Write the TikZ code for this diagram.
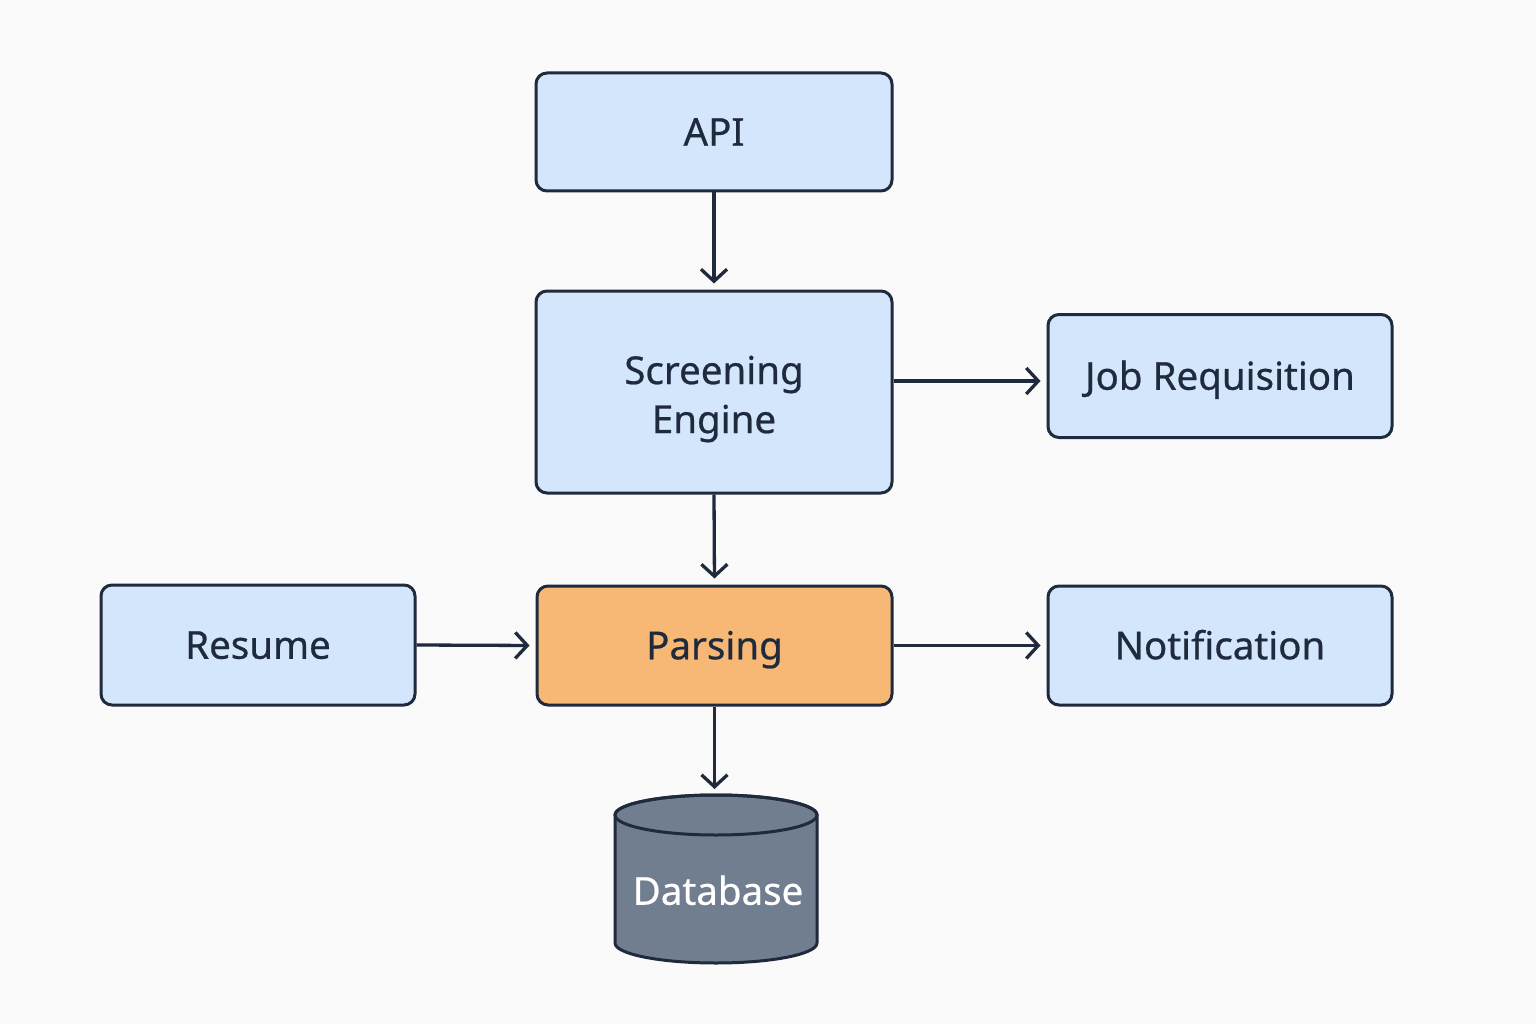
\documentclass[tikz,border=0pt]{standalone}
\usepackage{fontspec}
\setmainfont{Noto Sans}[UprightFeatures={FakeBold=0.6}]
\usetikzlibrary{arrows.meta}
\definecolor{bgc}{HTML}{FAFAFA}
\definecolor{edgec}{HTML}{1F2A3D}
\definecolor{boxc}{HTML}{D4E6FC}
\definecolor{orangec}{HTML}{F7B876}
\definecolor{dbc}{HTML}{717E90}
\tikzset{
  box/.style={draw=edgec, line width=3pt, rounded corners=11pt, fill=boxc,
    text=edgec, font=\fontsize{38.5}{45}\selectfont, align=center, inner sep=0pt,
    text height=27.5pt, text depth=0pt},
  lbl/.style={text=edgec, font=\fontsize{38.5}{45}\selectfont, align=center, inner sep=0pt},
  conn/.style={draw=edgec, line width=3.3pt,
    -{Straight Barb[length=12pt,width=26pt]}, shorten >=6pt},
}
\begin{document}
\begin{tikzpicture}[x=1pt,y=-1pt]
\useasboundingbox (0,0) rectangle (1536,1024);
\fill[bgc] (0,0) rectangle (1536,1024);

\node[box, minimum width=356pt, minimum height=118pt] (api) at (714,132) {API};
\node[box, minimum width=356pt, minimum height=202pt] (scr) at (714,392) {};
\node[lbl] (scrlbl) at (714,399) {Screening\\[4pt]Engine};
\node[box, minimum width=344pt, minimum height=123pt] (job) at (1220,376) {Job Requisition};
\node[box, minimum width=314pt, minimum height=120pt] (res) at (258,645) {Resume};
\node[box, fill=orangec, minimum width=355pt, minimum height=119pt] (par) at (714.5,645.5) {Parsing};
\node[box, minimum width=344pt, minimum height=119pt] (notif) at (1220,645.5) {Notification};

% database cylinder
\filldraw[fill=dbc, draw=edgec, line width=3pt]
  (615,815) -- (615,943) arc (180:0:101 and 20) -- (817,815) arc (0:-180:101 and 20) -- cycle;
\draw[edgec, line width=3pt] (716,815) ellipse (101 and 20);
\node[text=white, font=\fontsize{38.5}{45}\selectfont, inner sep=0pt,
  text height=27.5pt, text depth=0pt] (db) at (718,891) {Database};
\coordinate (dbtop) at (714.5,795);

\draw[conn] (api.south) -- (scr.north);
\draw[conn] (scr.east |- 0,381) -- (job.west |- 0,381);
\draw[conn] (scr.south) -- (par.north);
\draw[conn] (res.east) -- (par.west);
\draw[conn] (par.east) -- (notif.west);
\draw[conn] (par.south) -- (dbtop);
\end{tikzpicture}
\end{document}
